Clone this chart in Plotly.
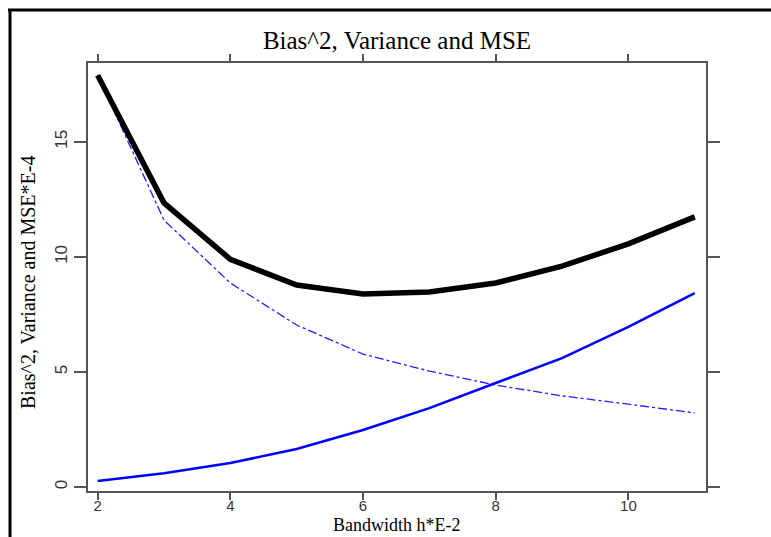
import plotly.graph_objects as go

bandwidth = [2, 3, 4, 5, 6, 7, 8, 9, 10, 11]
mse = [17.9, 12.35, 9.9, 8.78, 8.39, 8.48, 8.87, 9.6, 10.57, 11.74]
variance = [17.9, 11.6, 8.87, 7.04, 5.78, 5.04, 4.43, 3.96, 3.6, 3.22]
bias2 = [0.26, 0.6, 1.04, 1.65, 2.48, 3.43, 4.52, 5.6, 6.96, 8.43]
x_ticks = [2, 4, 6, 8, 10]
y_ticks = [0, 5, 10, 15]

W, H = 771, 537
L, R, T, B = 88, 65, 63, 46

fig = go.Figure()
fig.add_trace(go.Scatter(x=bandwidth, y=variance, mode="lines",
                         line=dict(color="#2020ff", width=1.3, dash="dashdot")))
fig.add_trace(go.Scatter(x=bandwidth, y=bias2, mode="lines",
                         line=dict(color="#0000ff", width=2.5)))
fig.add_trace(go.Scatter(x=bandwidth, y=mse, mode="lines",
                         line=dict(color="#000000", width=5.5)))

pw, ph = W - L - R, H - T - B
def px(xp):
    return (xp - L) / pw
def py(yp):
    return (H - B - yp) / ph

axis_col = "#555555"
fig.update_layout(
    width=W, height=H,
    margin=dict(l=L, r=R, t=T, b=B, autoexpand=False),
    paper_bgcolor="white", plot_bgcolor="white",
    showlegend=False,
    title=dict(text="Bias^2, Variance and MSE", x=0.5, xref="paper", xanchor="center",
               y=1 - 40 / H, yanchor="middle",
               font=dict(family="Liberation Serif", size=25, color="black")),
    xaxis=dict(range=[1.855, 11.17], tickvals=x_ticks, ticks="outside", ticklen=7,
               tickcolor=axis_col, tickwidth=1.5, showline=True, linecolor=axis_col,
               linewidth=1.5, mirror="ticks", showgrid=False, zeroline=False,
               automargin=False, ticklabelstandoff=-7,
               tickfont=dict(family="Liberation Sans", size=15, color="#333333")),
    yaxis=dict(range=[-0.174, 18.43], tickvals=y_ticks, ticks="outside", ticklen=12,
               tickcolor=axis_col, tickwidth=1.5, showline=True, linecolor=axis_col,
               linewidth=1.5, mirror="ticks", showgrid=False, zeroline=False,
               tickangle=-90, automargin=False,
               tickfont=dict(family="Liberation Sans", size=17, color="#333333")),
    annotations=[
        dict(text="Bandwidth h*E-2", xref="paper", yref="paper", x=0.5, y=py(537),
             xanchor="center", yanchor="bottom", showarrow=False,
             font=dict(family="Liberation Serif", size=18, color="black")),
        dict(text="Bias^2, Variance and MSE*E-4", xref="paper", yref="paper",
             x=px(28), y=py(283), textangle=-90, xanchor="center", yanchor="middle",
             showarrow=False,
             font=dict(family="Liberation Serif", size=20, color="black")),
    ],
    shapes=[
        dict(type="line", xref="paper", yref="paper", x0=px(8), x1=px(771),
             y0=py(10), y1=py(10), line=dict(color="black", width=3)),
        dict(type="line", xref="paper", yref="paper", x0=px(10), x1=px(10),
             y0=py(10), y1=py(537), line=dict(color="black", width=3)),
    ],
)

fig.write_html("out.html")
